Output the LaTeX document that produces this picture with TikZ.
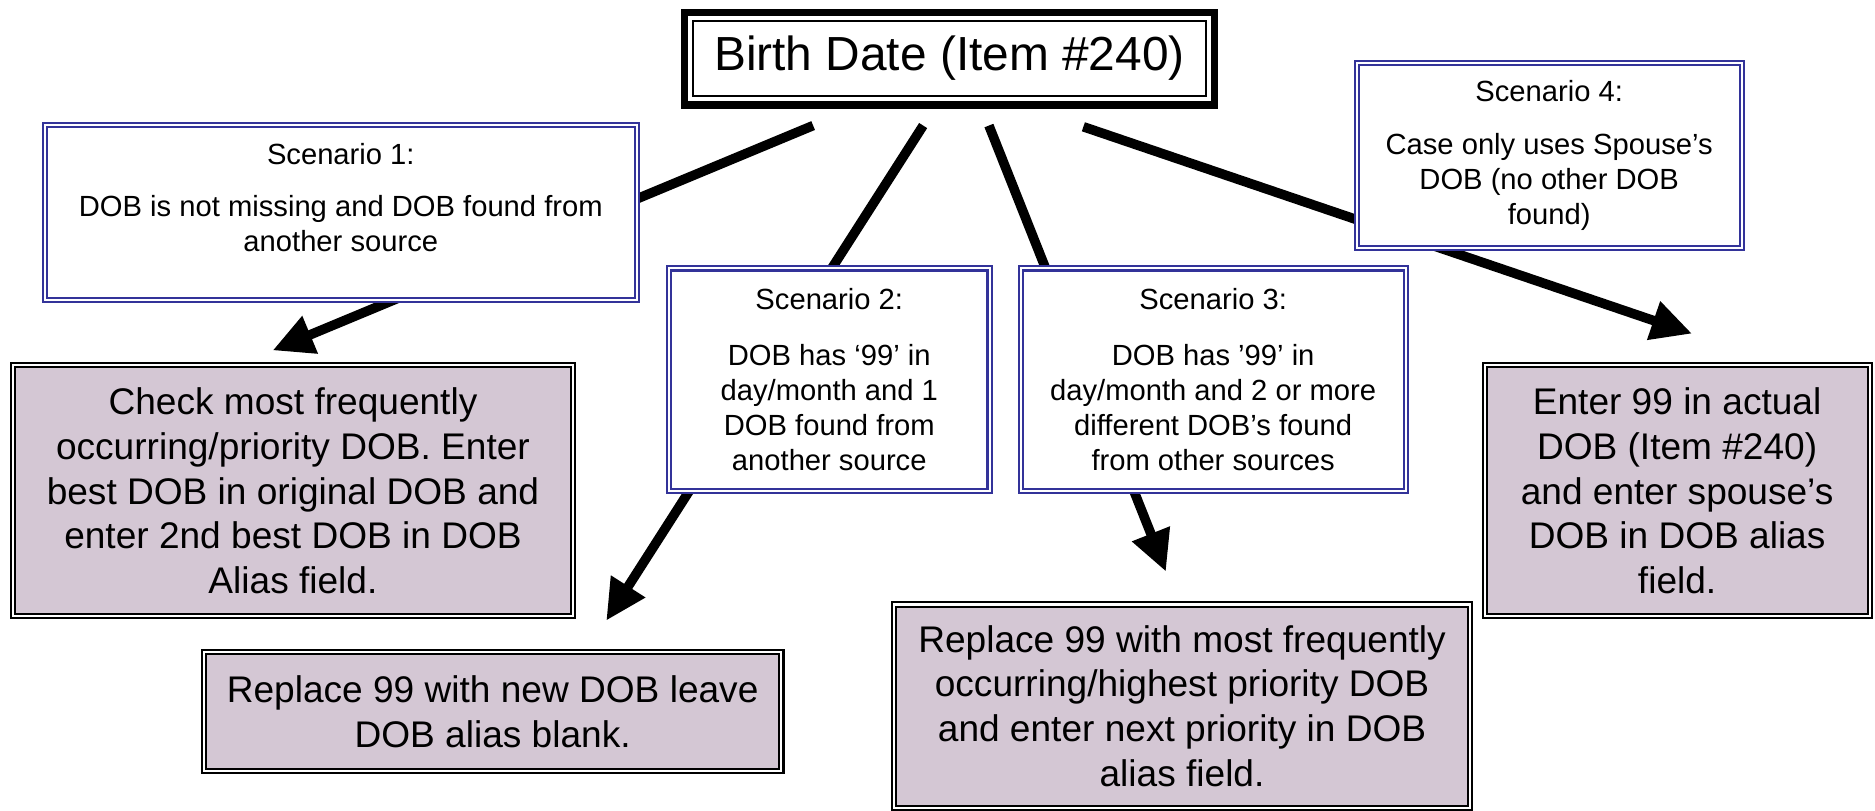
\documentclass[tikz,border=0pt]{standalone}
\usepackage{fontspec}
\setmainfont{Liberation Sans}
\usetikzlibrary{arrows.meta}
\definecolor{navy}{RGB}{51,51,153}
\definecolor{mauve}{RGB}{212,199,212}
\tikzset{
  scen/.style={draw=navy, line width=1.7pt, double=white, double distance=1.7pt,
    fill=white, align=center, inner sep=0pt, font=\fontsize{24.4}{29.3}\selectfont},
  act/.style={draw=black, line width=1.7pt, double=white, double distance=1.7pt,
    fill=mauve, align=center, inner sep=0pt, font=\fontsize{31}{37.5}\selectfont},
  ttl/.style={draw=black, line width=1.7pt, fill=white, inner sep=0pt,
    font=\fontsize{40}{48}\selectfont},
  arr/.style={line width=8pt, line cap=butt, -{Triangle[length=34pt,width=32pt]}},
}
\begin{document}
\begin{tikzpicture}[x=1pt,y=-1pt]
\useasboundingbox (0,0) rectangle (1568,678.2);
% title
\node[ttl, minimum width=429pt, minimum height=63pt] (title) at (794,49) {Birth Date (Item \#240)};
\draw[line width=6pt] ([xshift=-6.4pt,yshift=6.4pt]title.north west) rectangle ([xshift=6.4pt,yshift=-6.4pt]title.south east);
% arrow end points
\coordinate (s1) at (680,105);
\coordinate (e1) at (228,293);
\coordinate (s2) at (772,105);
\coordinate (e2) at (507,519);
\coordinate (s3) at (827,105);
\coordinate (e3) at (975,478);
\coordinate (s4) at (906,106);
\coordinate (e4) at (1415,279);
\draw[arr] (s1) -- (e1);
\draw[arr] (s2) -- (e2);
\draw[arr] (s3) -- (e3);
\draw[arr] (s4) -- (e4);
% scenarios
\node[scen, minimum width=495pt, minimum height=146pt] (sc1) at (285,177.5)
  {Scenario 1:\\[14pt]DOB is not missing and DOB found from\\another source\\[-4pt]\mbox{}};
\node[scen, minimum width=268pt, minimum height=186pt] (sc2) at (693.5,317.5)
  {Scenario 2:\\[18pt]DOB has ‘99’ in\\day/month and 1\\DOB found from\\another source};
\node[scen, minimum width=322pt, minimum height=186pt] (sc3) at (1014.5,317.5)
  {Scenario 3:\\[18pt]DOB has ’99’ in\\day/month and 2 or more\\different DOB’s found\\from other sources};
\node[scen, minimum width=322pt, minimum height=155pt] (sc4) at (1295.5,130)
  {Scenario 4:\\[15pt]Case only uses Spouse’s\\DOB (no other DOB\\found)};
% actions
\node[act, minimum width=469pt, minimum height=210pt] (p1) at (245,410.5)
  {Check most frequently\\occurring/priority DOB. Enter\\best DOB in original DOB and\\enter 2nd best DOB in DOB\\Alias field.};
\node[act, minimum width=483pt, minimum height=99pt] (p2) at (412,595)
  {Replace 99 with new DOB leave\\DOB alias blank.};
\node[act, minimum width=482pt, minimum height=170pt] (p3) at (988.5,590.5)
  {Replace 99 with most frequently\\occurring/highest priority DOB\\and enter next priority in DOB\\alias field.};
\node[act, minimum width=322pt, minimum height=210pt] (p4) at (1402.5,410.5)
  {Enter 99 in actual\\DOB (Item \#240)\\and enter spouse’s\\DOB in DOB alias\\field.};
\end{tikzpicture}
\end{document}
